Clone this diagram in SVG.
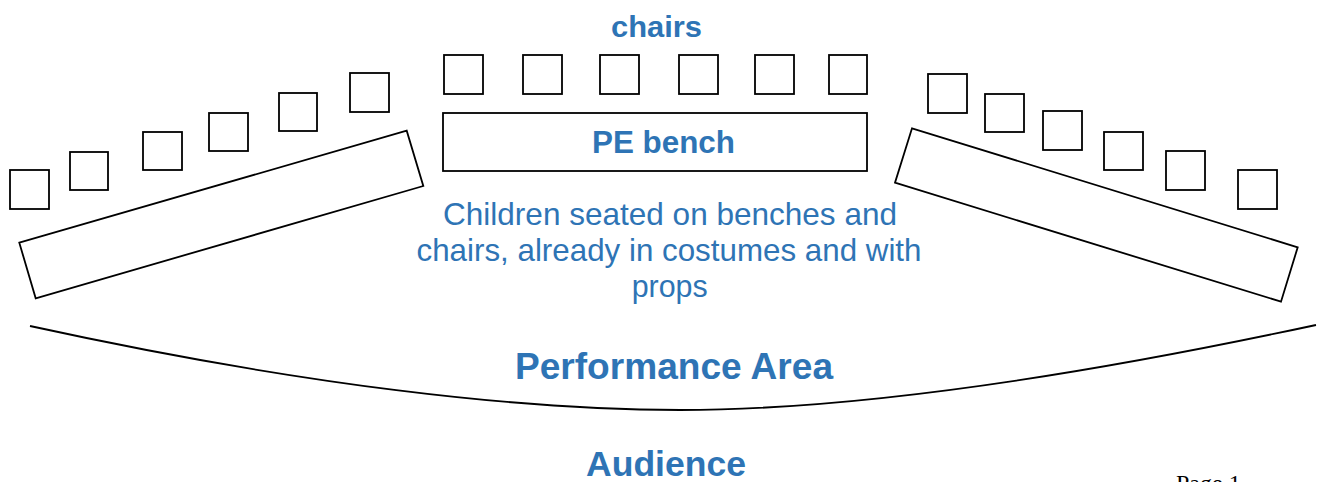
<svg xmlns="http://www.w3.org/2000/svg" width="1322" height="482" viewBox="0 0 1322 482">
<style>
.box{fill:#fff;stroke:#000;stroke-width:1.8}
.line{fill:none;stroke:#000;stroke-width:1.8}
.lbl{font-family:"Liberation Sans",Arial,sans-serif;fill:#2E74B5;text-anchor:middle}
.b{font-weight:bold}
.pg{font-family:"Liberation Serif","Times New Roman",serif;fill:#000}
</style>
<rect width="1322" height="482" fill="#fff"/>
<g id="left-chairs">
<rect class="box" x="10" y="170" width="39" height="39"/>
<rect class="box" x="70" y="152" width="38" height="38"/>
<rect class="box" x="143" y="132" width="39" height="38"/>
<rect class="box" x="209" y="113" width="39" height="38"/>
<rect class="box" x="279" y="93" width="38" height="38"/>
<rect class="box" x="350" y="73" width="39" height="39"/>
</g>
<g id="left-bench">
<polygon class="box" points="19.3,242.7 406.7,130.7 423.3,186 35.7,298.3"/>
</g>
<g id="top-chairs">
<rect class="box" x="444" y="55" width="39" height="39"/>
<rect class="box" x="523" y="55" width="39" height="39"/>
<rect class="box" x="600" y="55" width="39" height="39"/>
<rect class="box" x="679" y="55" width="39" height="39"/>
<rect class="box" x="755" y="55" width="39" height="39"/>
<rect class="box" x="829" y="55" width="38" height="39"/>
</g>
<g id="pe-bench">
<rect class="box" x="443" y="113" width="424" height="58"/>
<text class="lbl b" x="663.5" y="153" font-size="30.5" textLength="143" lengthAdjust="spacingAndGlyphs">PE bench</text>
</g>
<g id="right-chairs">
<rect class="box" x="928" y="74" width="39" height="39"/>
<rect class="box" x="985" y="94" width="39" height="38"/>
<rect class="box" x="1043" y="111" width="39" height="39"/>
<rect class="box" x="1104" y="132" width="39" height="38"/>
<rect class="box" x="1166" y="151" width="39" height="39"/>
<rect class="box" x="1238" y="170" width="39" height="39"/>
</g>
<g id="right-bench">
<polygon class="box" points="912,128.3 1297.7,247.3 1281,301.7 895,182.7"/>
</g>
<g id="labels">
<text class="lbl b" x="656.5" y="37" font-size="30" textLength="91" lengthAdjust="spacingAndGlyphs">chairs</text>
<text class="lbl" x="670" y="225" font-size="30.5" textLength="454" lengthAdjust="spacingAndGlyphs">Children seated on benches and</text>
<text class="lbl" x="669" y="261" font-size="30.5" textLength="505" lengthAdjust="spacingAndGlyphs">chairs, already in costumes and with</text>
<text class="lbl" x="669.7" y="297" font-size="30.5" textLength="76" lengthAdjust="spacingAndGlyphs">props</text>
<text class="lbl b" x="674" y="379" font-size="36.5" textLength="318" lengthAdjust="spacingAndGlyphs">Performance Area</text>
<text class="lbl b" x="666" y="476" font-size="35" textLength="160" lengthAdjust="spacingAndGlyphs">Audience</text>
<text class="pg" x="1176" y="491" font-size="24">Page 1</text>
</g>
<g id="connectors">
<path class="line" d="M30,326 C300,385 520,410 680,410 C840,410 1060,380 1316,325"/>
</g>
</svg>
